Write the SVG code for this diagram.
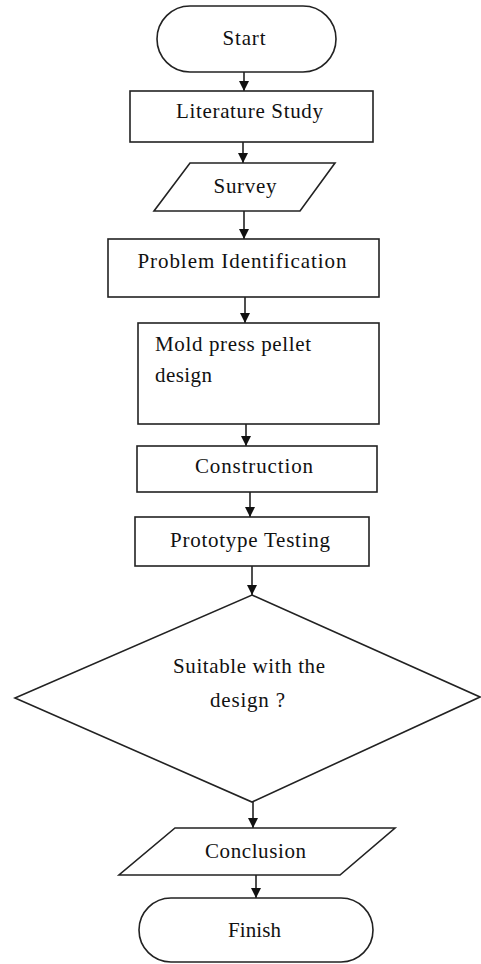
<svg xmlns="http://www.w3.org/2000/svg" width="481" height="964" viewBox="0 0 481 964">
<style>
.s{fill:#fff;stroke:#222;stroke-width:1.6}
.t{font-family:"Liberation Serif","Times New Roman",serif;font-size:21px;fill:#111;text-anchor:middle}
.c{stroke:#222;stroke-width:1.6;fill:none}
</style>
<defs>
<marker id="ah" markerUnits="userSpaceOnUse" markerWidth="11" markerHeight="12" refX="10" refY="5" orient="auto">
<path d="M0,0 L10,5 L0,10 Z" fill="#111"/>
</marker>
</defs>
<g id="connectors">
<line class="c" x1="244" y1="72" x2="244" y2="91" marker-end="url(#ah)"/>
<line class="c" x1="243" y1="142" x2="243" y2="163" marker-end="url(#ah)"/>
<line class="c" x1="244" y1="211" x2="244" y2="239" marker-end="url(#ah)"/>
<line class="c" x1="245" y1="297" x2="245" y2="323" marker-end="url(#ah)"/>
<line class="c" x1="246" y1="424" x2="246" y2="446" marker-end="url(#ah)"/>
<line class="c" x1="250" y1="492" x2="250" y2="517" marker-end="url(#ah)"/>
<line class="c" x1="252" y1="566" x2="252" y2="595" marker-end="url(#ah)"/>
<line class="c" x1="253" y1="802" x2="253" y2="828" marker-end="url(#ah)"/>
<line class="c" x1="256" y1="875" x2="256" y2="898" marker-end="url(#ah)"/>
</g>
<g id="start">
<rect class="s" x="157" y="6" width="179" height="66" rx="33"/>
<text class="t" x="244" y="45" textLength="43" lengthAdjust="spacing">Start</text>
</g>
<g id="literature">
<rect class="s" x="130" y="91" width="243" height="51"/>
<text class="t" x="249.5" y="118" textLength="147" lengthAdjust="spacing">Literature Study</text>
</g>
<g id="survey">
<polygon class="s" points="190,163 335,163 300,211 154,211"/>
<text class="t" x="245" y="193" textLength="63" lengthAdjust="spacing">Survey</text>
</g>
<g id="problem">
<rect class="s" x="108" y="239" width="271" height="58"/>
<text class="t" x="242" y="268" textLength="209" lengthAdjust="spacing">Problem Identification</text>
</g>
<g id="mold">
<rect class="s" x="138" y="323" width="241" height="101"/>
<text class="t" x="155" y="351" style="text-anchor:start" textLength="156" lengthAdjust="spacing">Mold press pellet</text>
<text class="t" x="155" y="382" style="text-anchor:start" textLength="57" lengthAdjust="spacing">design</text>
</g>
<g id="construction">
<rect class="s" x="137" y="446" width="240" height="46"/>
<text class="t" x="254" y="473" textLength="118" lengthAdjust="spacing">Construction</text>
</g>
<g id="prototype">
<rect class="s" x="135" y="517" width="234" height="49"/>
<text class="t" x="250" y="547" textLength="160" lengthAdjust="spacing">Prototype Testing</text>
</g>
<g id="decision">
<polygon class="s" points="252,595 480,697 252,802 15,698"/>
<text class="t" x="249" y="673" textLength="152" lengthAdjust="spacing">Suitable with the</text>
<text class="t" x="247.5" y="707" textLength="75" lengthAdjust="spacing">design ?</text>
</g>
<g id="conclusion">
<polygon class="s" points="175,828 395,828 340,875 119,875"/>
<text class="t" x="255.5" y="858" textLength="101" lengthAdjust="spacing">Conclusion</text>
</g>
<g id="finish">
<rect class="s" x="139" y="898" width="234" height="64" rx="32"/>
<text class="t" x="254.5" y="937" textLength="53" lengthAdjust="spacing">Finish</text>
</g>
</svg>
